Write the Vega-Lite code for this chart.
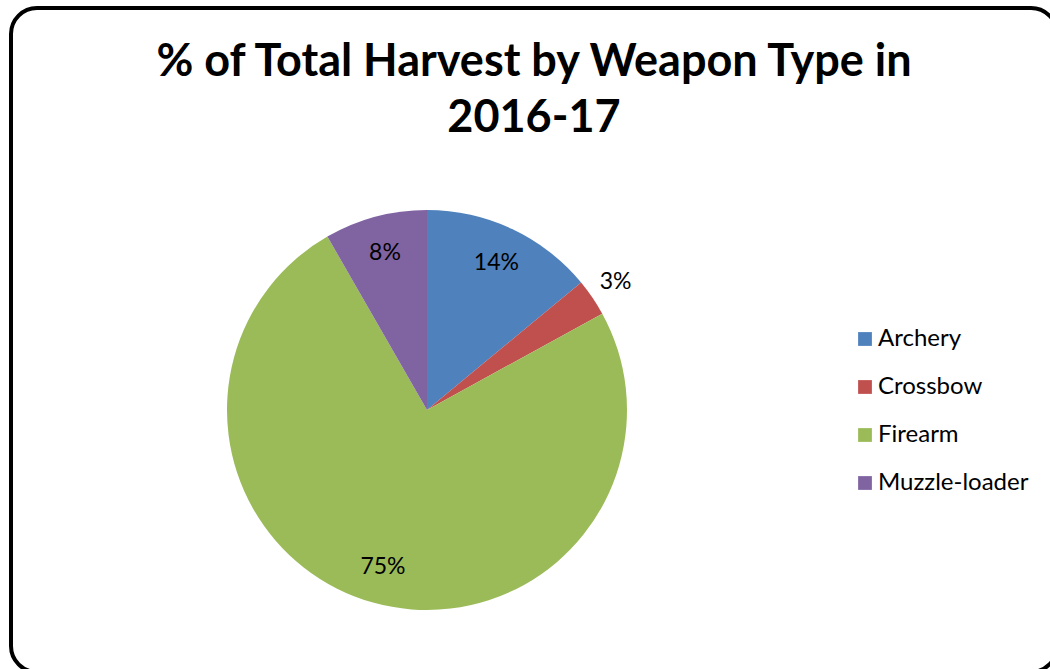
{
  "$schema": "https://vega.github.io/schema/vega-lite/v6.json",
  "width": 1050,
  "height": 669,
  "autosize": {"type": "fit", "contains": "padding"},
  "padding": {"left": 11, "top": 8, "right": -7, "bottom": -3},
  "background": "white",
  "view": {"stroke": "black", "strokeWidth": 4, "cornerRadius": 26, "fill": "white"},
  "config": {
    "font": "Lato"
  },
  "title": {
    "text": ["% of Total Harvest by Weapon Type in", "2016-17"],
    "orient": "top",
    "anchor": "middle",
    "offset": -133,
    "fontSize": 45,
    "fontWeight": "bold",
    "font": "Lato",
    "lineHeight": 56,
    "color": "black"
  },
  "data": {
    "values": [
      {"type": "Archery", "share": 0.140},
      {"type": "Crossbow", "share": 0.030},
      {"type": "Firearm", "share": 0.747},
      {"type": "Muzzle-loader", "share": 0.083}
    ]
  },
  "encoding": {
    "theta": {"field": "share", "type": "quantitative", "stack": true},
    "order": {"field": "type", "sort": "ascending"}
  },
  "layer": [
    {
      "mark": {"type": "arc", "outerRadius": 200, "x": 416, "y": 402},
      "encoding": {
        "color": {
          "field": "type",
          "type": "nominal",
          "scale": {
            "domain": ["Archery", "Crossbow", "Firearm", "Muzzle-loader"],
            "range": ["#4F81BD", "#C0504D", "#9BBB59", "#8064A2"]
          },
          "legend": {
            "title": null,
            "orient": "none",
            "legendX": 842,
            "legendY": 319,
            "symbolType": "square",
            "symbolSize": 190,
            "symbolStrokeWidth": 0,
            "labelFontSize": 24,
            "labelFont": "Lato",
            "labelColor": "black",
            "labelOffset": 1,
            "rowPadding": 24
          }
        }
      }
    },
    {
      "mark": {
        "type": "text",
        "x": 416,
        "y": 402,
        "radius": {"expr": "datum.share < 0.05 ? 228 : 163"},
        "fontSize": 23,
        "font": "Lato",
        "color": "black"
      },
      "encoding": {
        "text": {"field": "share", "type": "quantitative", "format": ".0%"}
      }
    }
  ]
}
